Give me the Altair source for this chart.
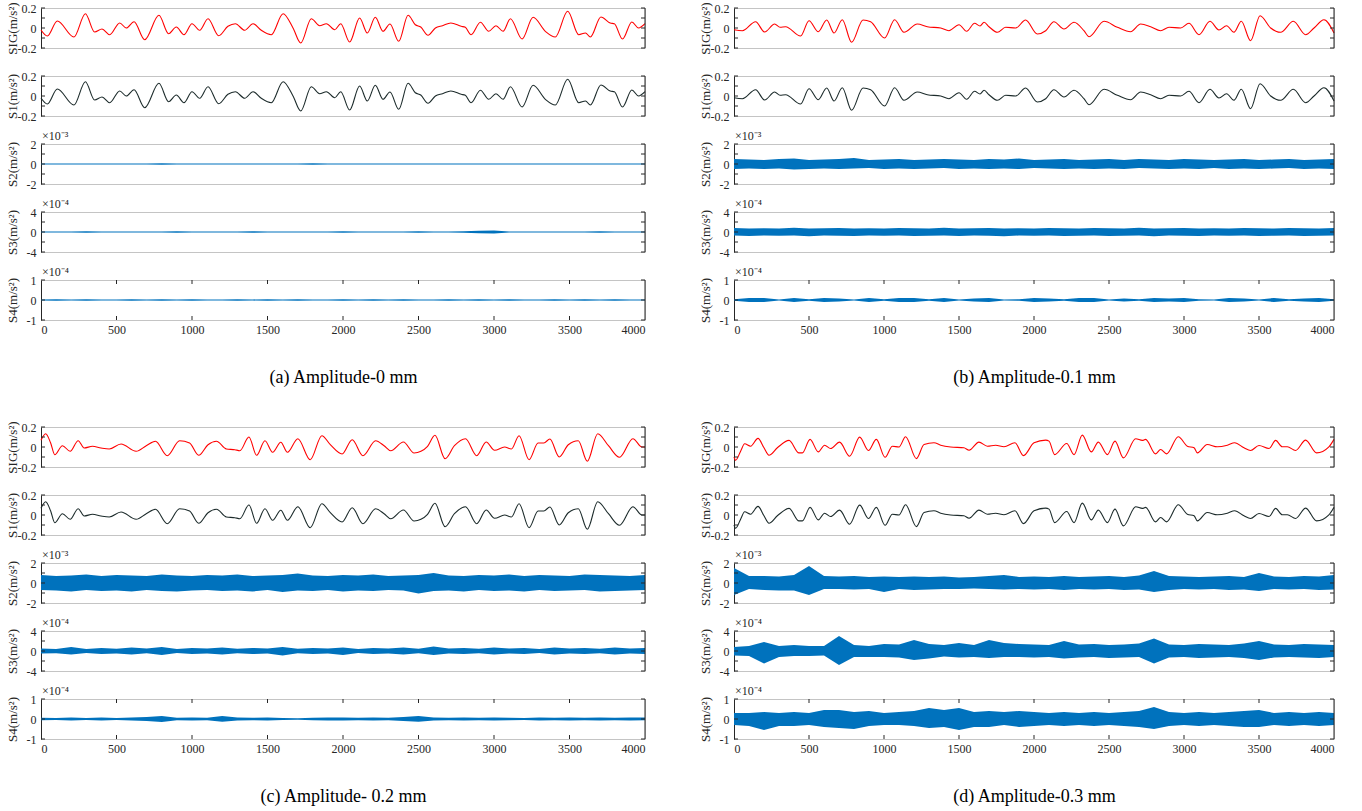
import altair as alt
import pandas as pd

FONT = "Liberation Serif"
BLUE = "#0072BD"
RED = "#FF0000"
DARK = "#1c2b2b"
AXC = "#262626"

# ---------------- smooth signals (SIG; S1 looks identical in every panel) -------------
sig_a_x = [0, 42, 108, 218, 294, 355, 404, 455, 521, 565, 616, 687, 781, 845, 896, 947, 1000, 1051,
           1106, 1177, 1238, 1287, 1349, 1404, 1459, 1525, 1603, 1669, 1720, 1790, 1845, 1890, 1945,
           1985, 2044, 2110, 2161, 2214, 2265, 2311, 2369, 2431, 2479, 2515, 2563, 2612, 2659, 2714,
           2783, 2810, 2848, 2910, 2965, 3013, 3060, 3109, 3186, 3259, 3340, 3406, 3488, 3561, 3606,
           3638, 3708, 3770, 3797, 3851, 3913, 3957, 4000]
sig_a_y = [-0.02, -0.08, 0.07, -0.09, 0.143, -0.04, -0.01, -0.067, 0.05, 0.0, 0.063, -0.117, 0.127,
           -0.057, 0.01, -0.067, 0.043, -0.023, 0.093, -0.077, 0.017, 0.043, -0.023, 0.043, -0.023,
           -0.067, 0.143, 0.0, -0.15, 0.093, 0.023, 0.043, -0.017, 0.043, -0.14, 0.1, -0.05, 0.107,
           -0.033, 0.04, -0.133, 0.127, 0.033, 0.01, -0.073, 0.0, 0.023, 0.05, 0.017, 0.007, -0.067,
           0.057, -0.033, 0.023, -0.033, 0.093, -0.11, 0.107, -0.033, -0.09, 0.167, -0.067, -0.05,
           -0.09, 0.11, 0.05, 0.043, -0.11, 0.06, 0.0, 0.043]

sig_b_x = [0, 56, 144, 204, 271, 307, 344, 444, 500, 562, 618, 667, 722, 784, 860, 911, 1004, 1071,
           1133, 1222, 1289, 1378, 1433, 1500, 1551, 1604, 1640, 1667, 1700, 1756, 1811, 1878, 1944,
           2022, 2078, 2133, 2200, 2267, 2333, 2367, 2467, 2556, 2644, 2711, 2778, 2844, 2900, 2978,
           3033, 3100, 3173, 3233, 3284, 3333, 3382, 3444, 3507, 3578, 3644, 3729, 3811, 3867, 3933,
           4000]
sig_b_y = [-0.017, -0.027, 0.063, -0.04, 0.04, 0.007, 0.013, -0.08, 0.073, -0.037, 0.08, -0.05, 0.083,
           -0.143, 0.08, 0.063, -0.1, 0.083, -0.043, 0.04, 0.013, 0.0, -0.027, 0.033, -0.033, 0.047,
           0.02, 0.057, 0.013, -0.043, 0.007, 0.0, 0.08, -0.06, -0.027, 0.063, -0.01, 0.057, -0.027,
           -0.087, 0.067, 0.007, -0.037, 0.04, 0.013, -0.027, 0.007, 0.0, 0.047, -0.067, 0.067, -0.02,
           0.023, -0.043, 0.067, -0.127, 0.123, 0.0, -0.043, 0.067, -0.067, 0.0, 0.083, -0.05]

sig_c_x = [0, 31, 64, 91, 142, 193, 246, 286, 341, 397, 452, 530, 630, 697, 758, 836, 918, 984, 1044,
           1106, 1162, 1228, 1284, 1317, 1377, 1428, 1483, 1534, 1588, 1632, 1701, 1783, 1860, 1916,
           1994, 2061, 2132, 2216, 2272, 2316, 2400, 2471, 2516, 2560, 2609, 2676, 2738, 2811, 2886,
           2948, 3004, 3070, 3115, 3166, 3232, 3292, 3330, 3370, 3432, 3492, 3558, 3618, 3687, 3758,
           3831, 3920, 3980, 4000]
sig_c_y = [0.067, 0.133, 0.04, -0.077, 0.013, -0.043, 0.063, -0.01, 0.007, -0.01, -0.02, 0.03, -0.043,
           0.013, 0.057, -0.087, 0.063, 0.04, -0.083, 0.023, 0.057, -0.02, -0.027, -0.037, 0.1, -0.083,
           0.063, -0.053, 0.047, -0.053, 0.083, -0.127, 0.113, 0.023, -0.07, 0.073, -0.087, 0.063, 0.013,
           -0.037, 0.05, -0.06, -0.043, 0.007, 0.117, -0.117, 0.013, 0.083, -0.087, 0.05, -0.033, 0.0,
           -0.02, 0.113, -0.127, 0.04, 0.04, 0.08, -0.1, 0.023, 0.063, -0.143, 0.133, 0.013, -0.103,
           0.083, 0.0, 0.0]

sig_d_x = [0, 11, 44, 71, 111, 160, 200, 233, 289, 367, 433, 456, 507, 562, 604, 644, 704, 771, 838,
           896, 949, 1007, 1056, 1100, 1144, 1216, 1267, 1333, 1378, 1444, 1533, 1567, 1633, 1689, 1744,
           1800, 1873, 1930, 2000, 2078, 2100, 2138, 2218, 2267, 2322, 2382, 2429, 2489, 2540, 2596,
           2678, 2722, 2744, 2811, 2844, 2884, 2962, 3022, 3067, 3089, 3155, 3222, 3289, 3338, 3400,
           3444, 3500, 3567, 3611, 3655, 3689, 3744, 3811, 3884, 3966, 4000]
sig_d_y = [-0.1, -0.133, -0.042, 0.032, 0.008, 0.086, -0.008, -0.082, -0.008, 0.066, -0.059, -0.059,
           0.076, -0.049, 0.018, -0.015, 0.049, -0.092, 0.099, -0.035, 0.076, -0.103, 0.008, 0.0, 0.103,
           -0.116, 0.025, 0.042, 0.018, 0.0, -0.008, -0.032, 0.049, 0.008, 0.018, 0.002, 0.042, -0.086,
           0.042, 0.069, 0.059, -0.076, 0.035, -0.076, 0.119, -0.049, 0.049, -0.076, 0.059, -0.109,
           0.082, 0.066, 0.076, -0.069, -0.025, -0.069, 0.103, 0.008, -0.008, -0.059, 0.025, 0.002,
           0.018, 0.042, -0.008, -0.035, 0.015, -0.015, 0.066, 0.002, 0.002, -0.035, 0.069, -0.059,
           0.002, 0.076]

# S1 traces read as identical to SIG
s1_a_y = sig_a_y
s1_b_y = sig_b_y
s1_c_y = sig_c_y
s1_d_y = sig_d_y

# ---------------- noisy signals: envelopes (upper / lower) every 100 samples -------------
env_x = [0, 100, 200, 300, 400, 500, 600, 700, 800, 900, 1000, 1100, 1200, 1300, 1400, 1500, 1600,
         1700, 1800, 1900, 2000, 2100, 2200, 2300, 2400, 2500, 2600, 2700, 2800, 2900, 3000, 3100,
         3200, 3300, 3400, 3500, 3600, 3700, 3800, 3900, 4000]

# panel (a)   S2 in 1e-3, S3 and S4 in 1e-4
a_s2_hi = [0.06, 0.05, 0.06, 0.05, 0.06, 0.05, 0.05, 0.06, 0.08, 0.05, 0.06, 0.05, 0.06, 0.05, 0.06,
           0.05, 0.06, 0.05, 0.08, 0.05, 0.06, 0.05, 0.06, 0.05, 0.06, 0.05, 0.06, 0.05, 0.06, 0.05,
           0.06, 0.05, 0.06, 0.05, 0.06, 0.05, 0.06, 0.05, 0.06, 0.05, 0.06]
a_s2_lo = [-0.05, -0.06, -0.05, -0.06, -0.05, -0.06, -0.05, -0.05, -0.07, -0.06, -0.05, -0.06, -0.05,
           -0.06, -0.05, -0.06, -0.05, -0.06, -0.08, -0.05, -0.06, -0.05, -0.06, -0.05, -0.06, -0.05,
           -0.06, -0.05, -0.06, -0.05, -0.06, -0.05, -0.06, -0.05, -0.06, -0.05, -0.06, -0.05, -0.06,
           -0.05, -0.06]
a_s3_hi = [0.1, 0.12, 0.1, 0.15, 0.1, 0.12, 0.1, 0.12, 0.1, 0.15, 0.1, 0.12, 0.1, 0.12, 0.15, 0.1,
           0.12, 0.1, 0.12, 0.1, 0.15, 0.1, 0.12, 0.1, 0.12, 0.15, 0.1, 0.12, 0.15, 0.25, 0.3, 0.12,
           0.1, 0.12, 0.1, 0.12, 0.1, 0.15, 0.1, 0.12, 0.1]
a_s3_lo = [-0.1, -0.12, -0.1, -0.15, -0.1, -0.12, -0.1, -0.12, -0.1, -0.15, -0.1, -0.12, -0.1, -0.12,
           -0.15, -0.1, -0.12, -0.1, -0.12, -0.1, -0.15, -0.1, -0.12, -0.1, -0.12, -0.15, -0.1, -0.12,
           -0.15, -0.25, -0.3, -0.12, -0.1, -0.12, -0.1, -0.12, -0.1, -0.15, -0.1, -0.12, -0.1]
a_s4_hi = [0.03, 0.04, 0.03, 0.04, 0.03, 0.03, 0.04, 0.03, 0.04, 0.03, 0.04, 0.03, 0.03, 0.04, 0.03,
           0.04, 0.03, 0.04, 0.03, 0.03, 0.04, 0.03, 0.04, 0.03, 0.04, 0.03, 0.03, 0.04, 0.03, 0.04,
           0.03, 0.04, 0.03, 0.03, 0.04, 0.03, 0.04, 0.03, 0.04, 0.03, 0.03]
a_s4_lo = [-0.03, -0.04, -0.03, -0.04, -0.03, -0.03, -0.04, -0.03, -0.04, -0.03, -0.04, -0.03, -0.03,
           -0.04, -0.03, -0.04, -0.03, -0.04, -0.03, -0.03, -0.04, -0.03, -0.04, -0.03, -0.04, -0.03,
           -0.03, -0.04, -0.03, -0.04, -0.03, -0.04, -0.03, -0.03, -0.04, -0.03, -0.04, -0.03, -0.04,
           -0.03, -0.03]

# panel (b)
b_s2_hi = [0.5, 0.45, 0.4, 0.5, 0.55, 0.4, 0.45, 0.5, 0.6, 0.4, 0.45, 0.5, 0.4, 0.45, 0.5, 0.45, 0.4,
           0.5, 0.45, 0.55, 0.4, 0.45, 0.5, 0.4, 0.45, 0.5, 0.4, 0.5, 0.45, 0.4, 0.5, 0.45, 0.4, 0.45,
           0.5, 0.4, 0.45, 0.5, 0.4, 0.45, 0.5]
b_s2_lo = [-0.5, -0.45, -0.5, -0.45, -0.55, -0.5, -0.45, -0.5, -0.45, -0.4, -0.5, -0.45, -0.5, -0.45,
           -0.4, -0.5, -0.45, -0.5, -0.45, -0.5, -0.4, -0.45, -0.5, -0.45, -0.5, -0.45, -0.5, -0.4,
           -0.45, -0.5, -0.45, -0.5, -0.4, -0.5, -0.45, -0.5, -0.45, -0.4, -0.5, -0.45, -0.5]
b_s3_hi = [0.8, 0.7, 0.75, 0.7, 0.85, 0.7, 0.75, 0.8, 0.7, 0.75, 0.7, 0.8, 0.75, 0.7, 0.85, 0.7, 0.75,
           0.8, 0.7, 0.75, 0.7, 0.8, 0.75, 0.7, 0.8, 0.75, 0.7, 0.85, 0.7, 0.75, 0.8, 0.7, 0.75, 0.7,
           0.8, 0.75, 0.7, 0.8, 0.75, 0.7, 0.8]
b_s3_lo = [-0.7, -0.8, -0.7, -0.75, -0.7, -0.85, -0.7, -0.75, -0.8, -0.7, -0.75, -0.7, -0.8, -0.75,
           -0.7, -0.8, -0.7, -0.75, -0.85, -0.7, -0.75, -0.7, -0.8, -0.75, -0.7, -0.8, -0.75, -0.7,
           -0.85, -0.7, -0.75, -0.8, -0.7, -0.75, -0.7, -0.8, -0.75, -0.7, -0.8, -0.75, -0.7]
b_s4_hi = [0.04, 0.1, 0.1, 0.03, 0.1, 0.04, 0.1, 0.08, 0.03, 0.1, 0.04, 0.1, 0.1, 0.04, 0.1, 0.03,
           0.08, 0.1, 0.03, 0.04, 0.1, 0.08, 0.04, 0.1, 0.1, 0.03, 0.08, 0.04, 0.1, 0.08, 0.1, 0.04,
           0.03, 0.1, 0.08, 0.03, 0.1, 0.04, 0.08, 0.1, 0.04]
b_s4_lo = [-0.04, -0.1, -0.1, -0.03, -0.1, -0.04, -0.1, -0.08, -0.03, -0.1, -0.04, -0.1, -0.1, -0.04,
           -0.1, -0.03, -0.08, -0.1, -0.03, -0.04, -0.1, -0.08, -0.04, -0.1, -0.1, -0.03, -0.08, -0.04,
           -0.1, -0.08, -0.1, -0.04, -0.03, -0.1, -0.08, -0.03, -0.1, -0.04, -0.08, -0.1, -0.04]

# panel (c)
c_s2_hi = [0.8, 0.7, 0.75, 0.85, 0.7, 0.8, 0.75, 0.7, 0.85, 0.75, 0.7, 0.8, 0.75, 0.85, 0.7, 0.75, 0.8,
           0.95, 0.75, 0.7, 0.8, 0.75, 0.85, 0.7, 0.75, 0.8, 1.0, 0.75, 0.7, 0.8, 0.75, 0.85, 0.7, 0.8,
           0.75, 0.7, 0.85, 0.8, 0.75, 0.7, 0.8]
c_s2_lo = [-0.7, -0.75, -0.85, -0.7, -0.8, -0.75, -0.85, -0.7, -0.8, -0.85, -0.75, -0.7, -0.8, -0.75,
           -0.85, -0.7, -0.9, -0.75, -0.8, -0.7, -0.85, -0.75, -0.8, -0.7, -0.75, -1.05, -0.8, -0.75,
           -0.85, -0.7, -0.8, -0.75, -0.85, -0.7, -0.8, -0.75, -0.7, -0.85, -0.8, -0.75, -0.7]
c_s3_hi = [0.5, 0.4, 0.8, 0.4, 0.6, 0.45, 0.7, 0.5, 0.8, 0.4, 0.6, 0.5, 0.7, 0.45, 0.6, 0.5, 0.8, 0.45,
           0.6, 0.5, 0.7, 0.4, 0.6, 0.5, 0.7, 0.45, 0.9, 0.5, 0.6, 0.45, 0.7, 0.5, 0.6, 0.4, 0.7, 0.5,
           0.6, 0.45, 0.7, 0.5, 0.6]
c_s3_lo = [-0.5, -0.45, -0.7, -0.4, -0.6, -0.5, -0.7, -0.45, -0.8, -0.4, -0.6, -0.5, -0.7, -0.45, -0.6,
           -0.5, -0.9, -0.45, -0.6, -0.5, -0.8, -0.4, -0.6, -0.5, -0.7, -0.45, -0.8, -0.5, -0.6, -0.45,
           -0.7, -0.5, -0.6, -0.4, -0.7, -0.5, -0.6, -0.45, -0.7, -0.5, -0.6]
c_s4_hi = [0.06, 0.05, 0.08, 0.05, 0.07, 0.05, 0.08, 0.1, 0.15, 0.06, 0.08, 0.06, 0.15, 0.08, 0.06,
           0.07, 0.05, 0.04, 0.06, 0.08, 0.07, 0.06, 0.08, 0.06, 0.1, 0.15, 0.08, 0.06, 0.07, 0.06, 0.08,
           0.06, 0.05, 0.07, 0.06, 0.08, 0.06, 0.07, 0.06, 0.08, 0.07]
c_s4_lo = [-0.06, -0.05, -0.07, -0.05, -0.08, -0.05, -0.07, -0.1, -0.15, -0.06, -0.07, -0.06, -0.14,
           -0.07, -0.06, -0.08, -0.05, -0.04, -0.06, -0.07, -0.08, -0.06, -0.07, -0.06, -0.1, -0.14,
           -0.07, -0.06, -0.08, -0.06, -0.07, -0.06, -0.05, -0.08, -0.06, -0.07, -0.06, -0.08, -0.06,
           -0.07, -0.06]

# panel (d)
d_s2_hi = [1.5, 0.7, 0.7, 0.65, 0.8, 1.7, 0.7, 0.65, 0.7, 0.6, 0.65, 0.6, 0.65, 0.6, 0.65, 0.55, 0.6,
           0.7, 0.8, 0.6, 0.65, 0.6, 0.7, 0.6, 0.65, 0.7, 0.6, 0.75, 1.2, 0.7, 0.65, 0.6, 0.65, 0.7,
           0.6, 1.0, 0.65, 0.6, 0.7, 0.65, 0.8]
d_s2_lo = [-1.2, -0.6, -0.7, -0.75, -0.75, -1.2, -0.6, -0.6, -0.65, -0.6, -0.9, -0.6, -0.7, -0.65,
           -0.6, -0.6, -0.55, -0.6, -0.65, -0.6, -0.65, -0.6, -0.7, -0.6, -0.65, -0.6, -0.7, -0.65,
           -0.9, -0.7, -0.6, -0.65, -0.6, -0.7, -0.65, -0.8, -0.6, -0.65, -0.6, -0.7, -0.65]
d_s3_hi = [0.8, 1.0, 1.8, 1.0, 1.2, 1.0, 1.0, 3.0, 1.2, 1.0, 1.4, 1.3, 2.2, 1.4, 1.2, 1.6, 1.2, 2.2,
           1.6, 1.4, 1.3, 1.2, 2.0, 1.3, 1.4, 1.2, 1.3, 1.5, 2.5, 1.3, 1.2, 1.4, 1.3, 1.2, 1.5, 2.0,
           1.3, 1.2, 1.4, 1.3, 1.2]
d_s3_lo = [-0.9, -1.0, -2.5, -1.2, -1.0, -1.0, -0.9, -2.8, -1.2, -1.2, -1.2, -1.3, -1.8, -1.5, -1.1,
           -1.3, -1.2, -1.4, -1.2, -1.2, -1.3, -1.2, -1.5, -1.3, -1.2, -1.4, -1.3, -1.2, -2.5, -1.3,
           -1.2, -1.4, -1.3, -1.2, -1.4, -1.8, -1.3, -1.2, -1.3, -1.4, -1.2]
d_s4_hi = [0.3, 0.3, 0.35, 0.3, 0.35, 0.3, 0.45, 0.45, 0.35, 0.4, 0.3, 0.35, 0.4, 0.55, 0.45, 0.55,
           0.35, 0.4, 0.35, 0.4, 0.35, 0.3, 0.35, 0.3, 0.35, 0.3, 0.35, 0.4, 0.6, 0.35, 0.3, 0.35, 0.3,
           0.35, 0.4, 0.45, 0.3, 0.35, 0.3, 0.35, 0.3]
d_s4_lo = [-0.3, -0.35, -0.55, -0.35, -0.35, -0.3, -0.4, -0.45, -0.5, -0.35, -0.3, -0.3, -0.35, -0.45,
           -0.4, -0.55, -0.4, -0.4, -0.3, -0.4, -0.35, -0.3, -0.35, -0.3, -0.35, -0.3, -0.35, -0.4,
           -0.5, -0.35, -0.3, -0.35, -0.3, -0.35, -0.4, -0.4, -0.3, -0.35, -0.3, -0.35, -0.3]

captions = ["(a) Amplitude-0 mm", "(b) Amplitude-0.1 mm", "(c) Amplitude- 0.2 mm", "(d) Amplitude-0.3 mm"]
x_ticks = [0, 500, 1000, 1500, 2000, 2500, 3000, 3500, 4000]
ticks_sig = [-0.2, -0.1, 0, 0.1, 0.2]
ticks_s2 = [-2, -1, 0, 1, 2]
ticks_s3 = [-4, -2, 0, 2, 4]
ticks_s4 = [-1, 0, 1]

H = 40


def subplot(kind, data, color, ytitle, yticks, expo, W, bottom=False, caption=""):
    xaxis = None
    if bottom:
        xaxis = alt.Axis(values=x_ticks, labelExpr="datum.value + ''", ticks=False, domain=False,
                         grid=False, labelFont=FONT, labelFontSize=12, labelColor=AXC, labelPadding=4,
                         title=caption, titleFont=FONT, titleFontSize=18, titleFontWeight="normal",
                         titleColor="#000000", titlePadding=33)
    xenc = alt.X("x:Q", scale=alt.Scale(domain=[0, 4000], nice=False, zero=False), axis=xaxis)
    yenc = alt.Y("y:Q", scale=alt.Scale(domain=[yticks[0], yticks[-1]], nice=False, zero=False),
                 axis=alt.Axis(values=yticks, labelExpr="datum.value + ''", ticks=False, grid=False,
                               domainColor=AXC, labelFont=FONT, labelFontSize=12, labelColor=AXC,
                               labelPadding=5, title=ytitle, titleFont=FONT, titleFontSize=13,
                               titleFontWeight="normal", titleColor=AXC, minExtent=21,
                               maxExtent=21, titlePadding=1))
    base = alt.Chart(data)
    if kind == "line":
        main = base.mark_line(color=color, strokeWidth=1.1, interpolate="monotone").encode(x=xenc, y=yenc)
    else:
        main = base.mark_area(color=BLUE, opacity=1, interpolate="linear").encode(
            x=xenc, y=yenc, y2="y2:Q")
    tdf = pd.DataFrame({"y": yticks})
    lt = alt.Chart(tdf).mark_rule(color=AXC, strokeWidth=1).encode(
        y=yenc, x=alt.value(0), x2=alt.value(4))
    rt = alt.Chart(tdf).mark_rule(color=AXC, strokeWidth=1).encode(
        y=yenc, x=alt.value(W - 4), x2=alt.value(W))
    one = pd.DataFrame({"k": [0]})
    rb = alt.Chart(one).mark_rule(color=AXC, strokeWidth=1).encode(
        x=alt.value(W), y=alt.value(0), y2=alt.value(H))
    layers = [main, lt, rt, rb]
    if expo:
        layers.append(alt.Chart(one).mark_text(font=FONT, fontSize=12, color=AXC, align="left",
                                                baseline="bottom").encode(
            x=alt.value(1), y=alt.value(-1), text=alt.value(expo)))
    if bottom:
        xdf = pd.DataFrame({"x": x_ticks[1:-1]})
        layers.append(alt.Chart(xdf).mark_rule(color=AXC).encode(x=xenc, y=alt.value(0), y2=alt.value(4)))
        layers.append(alt.Chart(xdf).mark_rule(color=AXC).encode(x=xenc, y=alt.value(H - 4), y2=alt.value(H)))
    return alt.layer(*layers).properties(width=W, height=H)


def panel(sx, sy, s1y, s2h, s2l, s3h, s3l, s4h, s4l, caption, W):
    sig_df = pd.DataFrame({"x": sx, "y": sy})
    s1_df = pd.DataFrame({"x": sx, "y": s1y})
    s2_df = pd.DataFrame({"x": env_x, "y": s2h, "y2": s2l})
    s3_df = pd.DataFrame({"x": env_x, "y": s3h, "y2": s3l})
    s4_df = pd.DataFrame({"x": env_x, "y": s4h, "y2": s4l})
    subs = [
        subplot("line", sig_df, RED, "SIG(m/s²)", ticks_sig, None, W),
        subplot("line", s1_df, DARK, "S1(m/s²)", ticks_sig, None, W),
        subplot("area", s2_df, BLUE, "S2(m/s²)", ticks_s2, "×10⁻³", W),
        subplot("area", s3_df, BLUE, "S3(m/s²)", ticks_s3, "×10⁻⁴", W),
        subplot("area", s4_df, BLUE, "S4(m/s²)", ticks_s4, "×10⁻⁴", W, bottom=True, caption=caption),
    ]
    return alt.vconcat(*subs, spacing=28, bounds="flush")


pa = panel(sig_a_x, sig_a_y, s1_a_y, a_s2_hi, a_s2_lo, a_s3_hi, a_s3_lo, a_s4_hi, a_s4_lo, captions[0], 604)
pb = panel(sig_b_x, sig_b_y, s1_b_y, b_s2_hi, b_s2_lo, b_s3_hi, b_s3_lo, b_s4_hi, b_s4_lo, captions[1], 600)
pc = panel(sig_c_x, sig_c_y, s1_c_y, c_s2_hi, c_s2_lo, c_s3_hi, c_s3_lo, c_s4_hi, c_s4_lo, captions[2], 604)
pd_ = panel(sig_d_x, sig_d_y, s1_d_y, d_s2_hi, d_s2_lo, d_s3_hi, d_s3_lo, d_s4_hi, d_s4_lo, captions[3], 600)

top = alt.hconcat(pa, pb, spacing=50)
bot = alt.hconcat(pc, pd_, spacing=50)

chart = alt.vconcat(top, bot, spacing=33).configure(
    font=FONT, padding={"left": 5, "top": 1, "right": 5, "bottom": 5}, background="white"
).configure_view(stroke="#c4c4c4", strokeWidth=1)

chart.save("out.html", embed_options={"renderer": "svg", "actions": False})
